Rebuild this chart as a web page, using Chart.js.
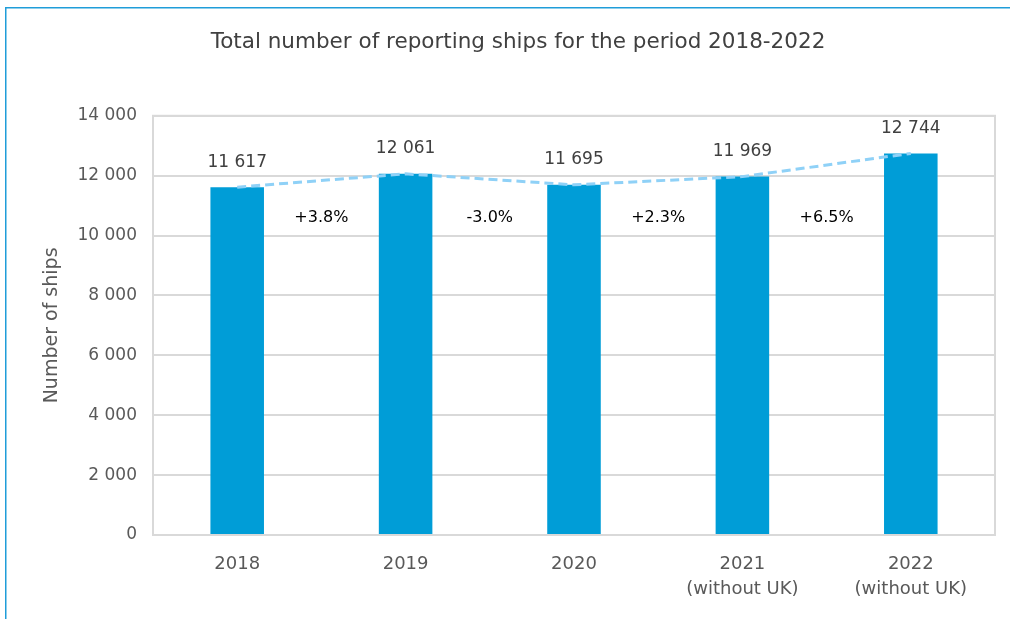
<!DOCTYPE html>
<html>
<head>
<meta charset="utf-8">
<script src="https://cdn.jsdelivr.net/npm/chart.js@4"></script>
<style>
  html, body { margin:0; padding:0; background:#fff; }
  canvas { display:block; }
</style>
</head>
<body>
<canvas id="c" width="1010" height="619"></canvas>
<script>
const categories = [['2018'], ['2019'], ['2020'], ['2021', '(without UK)'], ['2022', '(without UK)']];
const ships = [11617, 12061, 11695, 11969, 12744];
const changeLabels = ['+3.8%', '-3.0%', '+2.3%', '+6.5%'];
const yTicks = [0, 2000, 4000, 6000, 8000, 10000, 12000, 14000];
const titleText = 'Total number of reporting ships for the period 2018-2022';
const yTitle = 'Number of ships';

const FONT = "'DejaVu Sans', sans-serif";
const fmt = v => String(v).replace(/\B(?=(\d{3})+(?!\d))/g, ' ');

const overlay = {
  id: 'overlay',
  beforeDraw(chart) {
    const {ctx, width, height} = chart;
    ctx.save();
    ctx.fillStyle = '#fff';
    ctx.fillRect(0, 0, width, height);
    ctx.strokeStyle = '#1f9dd9';
    ctx.lineWidth = 1.5;
    ctx.beginPath();
    ctx.moveTo(5.75, height);
    ctx.lineTo(5.75, 7.75);
    ctx.lineTo(width, 7.75);
    ctx.stroke();
    ctx.restore();
  },
  beforeDatasetsDraw(chart) {
    const {ctx, chartArea: a} = chart;
    ctx.save();
    ctx.strokeStyle = '#d9d9d9';
    ctx.lineWidth = 2;
    ctx.strokeRect(a.left, a.top, a.right - a.left, a.bottom - a.top);
    ctx.restore();
  },
  afterDatasetsDraw(chart) {
    const {ctx, scales: {x, y}} = chart;
    ctx.save();
    ctx.font = "17px " + FONT;
    ctx.fillStyle = '#404040';
    ctx.textAlign = 'center';
    ctx.textBaseline = 'middle';
    ships.forEach((v, i) => {
      ctx.fillText(fmt(v), x.getPixelForValue(i), y.getPixelForValue(v) - 25);
    });
    ctx.font = "16px " + FONT;
    ctx.fillStyle = '#000';
    changeLabels.forEach((t, i) => {
      const px = (x.getPixelForValue(i) + x.getPixelForValue(i + 1)) / 2;
      ctx.fillText(t, px, y.getPixelForValue(10600));
    });
    ctx.restore();
  }
};

new Chart(document.getElementById('c'), {
  data: {
    labels: categories,
    datasets: [
      {
        type: 'line', data: ships, order: 0,
        borderColor: '#8fd1f7', borderWidth: 3, borderDash: [9, 5],
        pointRadius: 0, fill: false, tension: 0
      },
      {
        type: 'bar', data: ships, order: 1,
        backgroundColor: '#009dd7', borderWidth: 0,
        categoryPercentage: 1, barPercentage: 0.318
      }
    ]
  },
  options: {
    responsive: false, animation: false,
    layout: { padding: { left: 41, right: 15, top: 0, bottom: 0 } },
    plugins: {
      legend: { display: false }, tooltip: { enabled: false },
      title: {
        display: true, text: titleText, color: '#404040',
        font: { family: FONT, size: 21.5, weight: 'normal' },
        padding: { top: 30, bottom: 60 }
      }
    },
    scales: {
      x: {
        grid: { display: false },
        border: { display: false },
        ticks: { color: '#595959', font: { family: FONT, size: 18, lineHeight: 1.4 }, padding: 9, maxRotation: 0 },
        afterFit(s) { s.height = 84; }
      },
      y: {
        min: 0, max: 14000,
        afterBuildTicks(s) { s.ticks = yTicks.map(v => ({ value: v })); },
        grid: { color: '#d9d9d9', lineWidth: 2, drawTicks: false },
        border: { display: false },
        ticks: { color: '#595959', font: { family: FONT, size: 17 }, padding: 16, callback: v => fmt(v) },
        title: { display: true, text: yTitle, color: '#595959', font: { family: FONT, size: 19 }, padding: { top: 0, bottom: 0 } },
        afterFit(s) { s.width = 112; }
      }
    }
  },
  plugins: [overlay]
});
</script>
</body>
</html>
